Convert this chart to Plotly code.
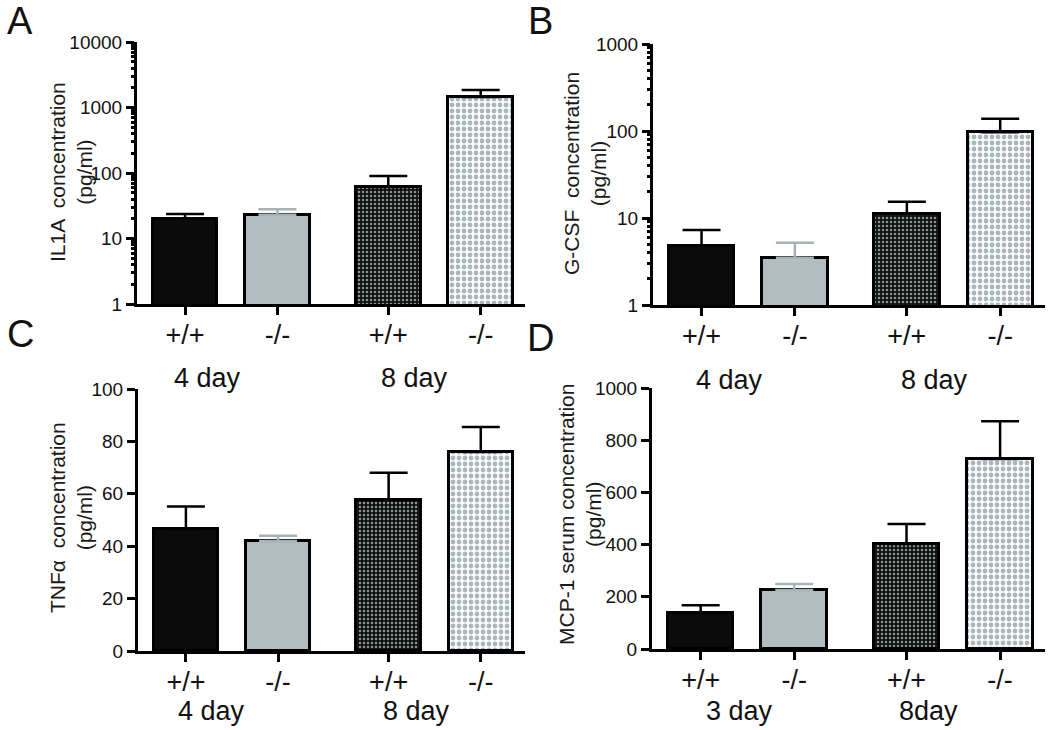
import plotly.graph_objects as go

# ---------------- data ----------------
groups = ["+/+", "-/-", "+/+", "-/-"]
xpos = [0, 1, 2.2, 3.2]

il1a_mean = [20, 23, 61, 1450]
il1a_err = [3.6, 5, 29, 400]

gcsf_mean = [4.8, 3.5, 11.2, 97]
gcsf_err = [2.5, 1.7, 4.2, 41]

tnfa_mean = [46.6, 42, 57.6, 76]
tnfa_err = [8.6, 2, 10.4, 9.5]

mcp1_mean = [138, 226, 402, 728]
mcp1_err = [30, 23, 77, 145]

log_ticks_A = [1, 10, 100, 1000, 10000]
log_ticks_B = [1, 10, 100, 1000]
lin_ticks_C = [0, 20, 40, 60, 80, 100]
lin_ticks_D = [0, 200, 400, 600, 800, 1000]

day_labels_A = ["4 day", "8 day"]
day_labels_B = ["4 day", "8 day"]
day_labels_C = ["4 day", "8 day"]
day_labels_D = ["3 day", "8day"]

titles = {
    "A": "IL1A  concentration<br>(pg/ml)",
    "B": "G-CSF  concentration<br>(pg/ml)",
    "C": "TNF\u03b1  concentration<br>(pg/ml)",
    "D": "MCP-1 serum concentration<br>(pg/ml)",
}

# ---------------- styling ----------------
FONT = "Liberation Sans, Arial, sans-serif"
TXT = "#111111"
bar_fill = ["#0b0b0b", "#b1bdc1", "#111111", "#ffffff"]
patterns = [
    dict(shape=""),
    dict(shape=""),
    dict(shape=".", fgcolor="#8c9498", bgcolor="#101010", size=4, solidity=0.3, fillmode="replace"),
    dict(shape=".", fgcolor="#a9b7bb", bgcolor="#ffffff", size=6, solidity=0.5, fillmode="replace"),
]
err_colors = ["#000000", "#a5b2b6", "#000000", "#000000"]

fig = go.Figure()

W, H = 1050, 730
def px_x(a, b):
    return [a / W, b / W]
def px_y(top, bottom):
    return [1 - bottom / H, 1 - top / H]

panels = [
    # key, axis suffix, means, errs, log?, x domain, y domain
    ("A", "", il1a_mean, il1a_err, True, px_x(137, 525), px_y(42, 304)),
    ("B", "2", gcsf_mean, gcsf_err, True, px_x(653, 1045), px_y(44, 305)),
    ("C", "3", tnfa_mean, tnfa_err, False, px_x(138, 525), px_y(389, 651)),
    ("D", "4", mcp1_mean, mcp1_err, False, px_x(652, 1045), px_y(388, 649)),
]

for key, sfx, means, errs, is_log, xd, yd in panels:
    for i in range(4):
        fig.add_trace(go.Bar(
            x=[xpos[i]], y=[means[i]],
            width=0.70,
            marker=dict(color=bar_fill[i], pattern=patterns[i],
                        line=dict(color="#000000", width=3)),
            error_y=dict(type="data", symmetric=False, array=[errs[i]], arrayminus=[0],
                         color=err_colors[i], thickness=2.5, width=19),
            xaxis="x" + sfx, yaxis="y" + sfx,
            showlegend=False, hoverinfo="skip",
        ))

axis_common = dict(
    showline=True, linecolor="#000000", linewidth=3,
    ticks="outside", tickcolor="#000000", tickwidth=3, ticklen=8,
    showgrid=False, zeroline=False, automargin=False,
)

layout = dict(
    width=W, height=H, margin=dict(l=0, r=0, t=0, b=0, autoexpand=False),
    plot_bgcolor="white", paper_bgcolor="white",
    font=dict(family=FONT, color=TXT),
    bargap=0, showlegend=False,
)

tick_sets = {"A": log_ticks_A, "B": log_ticks_B, "C": lin_ticks_C, "D": lin_ticks_D}

minor_axis_id = 5
for key, sfx, means, errs, is_log, xd, yd in panels:
    xa = dict(axis_common)
    xa.update(domain=xd, range=[-0.52, 3.68], tickmode="array", tickvals=xpos, ticktext=groups,
              tickfont=dict(size=27, family=FONT, color=TXT), anchor="y" + sfx,
              ticklabelstandoff=-3)
    ya = dict(axis_common)
    tv = tick_sets[key]
    if is_log:
        ya.update(type="log", range=[0, len(tv) - 1], tickmode="array", tickvals=tv,
                  ticktext=[str(t) for t in tv])
        # minor ticks on an overlaid axis (carries an invisible helper trace)
        minor_vals = [m * 10 ** d for d in range(len(tv) - 1) for m in range(2, 10)]
        mid = str(minor_axis_id)
        layout["yaxis" + mid] = dict(
            type="log", range=[0, len(tv) - 1], overlaying="y" + sfx, anchor="x" + sfx,
            side="left", tickmode="array", tickvals=minor_vals, showticklabels=False,
            ticks="outside", ticklen=5, tickwidth=2.5, tickcolor="#000000",
            showline=False, showgrid=False, zeroline=False, automargin=False,
        )
        fig.add_trace(go.Scatter(
            x=[xpos[0]], y=[means[0]], mode="markers",
            marker=dict(opacity=0, size=1), xaxis="x" + sfx, yaxis="y" + mid,
            showlegend=False, hoverinfo="skip",
        ))
        minor_axis_id += 1
    else:
        ya.update(range=[tv[0], tv[-1]], tickmode="array", tickvals=tv,
                  ticktext=[str(t) for t in tv])
    ya.update(domain=yd, anchor="x" + sfx,
              tickfont=dict(size=19, family=FONT, color=TXT))
    layout["xaxis" + sfx] = xa
    layout["yaxis" + sfx] = ya

fig.update_layout(**layout)

# y-axis titles as rotated annotations (placed to match reference)
title_pos = {"A": (71, 172), "B": (585, 174), "C": (71, 518), "D": (580, 515)}
for key, (x, y) in title_pos.items():
    fig.add_annotation(text=titles[key], x=x / W, y=1 - y / H, xref="paper", yref="paper",
                       showarrow=False, textangle=-90,
                       font=dict(size=21, family=FONT, color="#1a1a1a"),
                       xanchor="center", yanchor="middle")

# panel letters
letters = [("A", 20, 21), ("B", 540, 21), ("C", 20, 334), ("D", 540, 338)]
for t, x, y in letters:
    fig.add_annotation(text=t, x=x / W, y=1 - y / H, xref="paper", yref="paper",
                       showarrow=False, font=dict(size=38, family=FONT, color=TXT),
                       xanchor="center", yanchor="middle")

# day group labels
day_positions = [
    (day_labels_A, [207, 414], 378),
    (day_labels_B, [729, 935], 380),
    (day_labels_C, [211, 416], 711),
    (day_labels_D, [739, 928], 711),
]
for labels, xs, y in day_positions:
    for lab, x in zip(labels, xs):
        fig.add_annotation(text=lab, x=x / W, y=1 - y / H, xref="paper", yref="paper",
                           showarrow=False, font=dict(size=27, family=FONT, color=TXT),
                           xanchor="center", yanchor="middle")

fig.write_html("out.html", config={"displayModeBar": False},
               post_script="document.body.style.margin='0px';document.body.style.overflow='hidden';")
